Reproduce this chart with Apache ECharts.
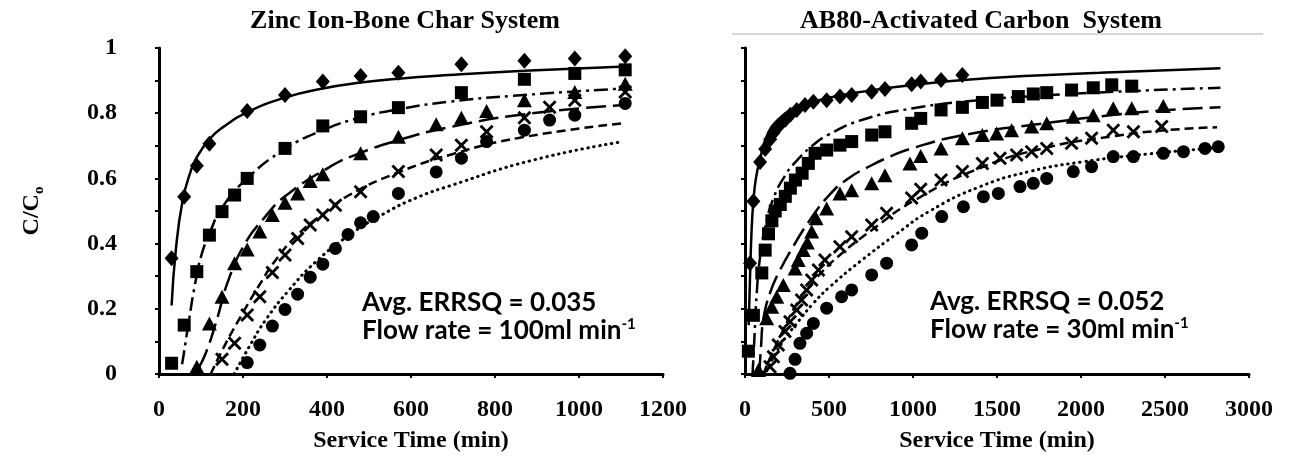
<!DOCTYPE html>
<html>
<head>
<meta charset="utf-8">
<script src="https://cdn.jsdelivr.net/npm/echarts@6/dist/echarts.min.js"></script>
<style>
  html, body { margin: 0; padding: 0; background: #fff; }
  #chart { width: 1290px; height: 459px; }
</style>
</head>
<body>
<div id="chart"></div>
<script>
// Breakthrough data, [service time (min), C/Co]
// Zinc ion on bone char, 100 ml/min
const zincDiamond = [[30,0.355],[60,0.544],[90,0.639],[120,0.706],[210,0.807],[300,0.856],[390,0.897],[480,0.914],[570,0.924],[720,0.95],[870,0.961],[990,0.968],[1110,0.975]];
const zincSquare = [[30,0.033],[60,0.15],[90,0.314],[120,0.426],[150,0.498],[180,0.549],[210,0.60],[300,0.692],[390,0.761],[480,0.789],[570,0.817],[720,0.863],[870,0.904],[990,0.922],[1110,0.933]];
const zincTriangle = [[90,0.022],[120,0.155],[150,0.237],[180,0.34],[210,0.382],[240,0.437],[270,0.488],[300,0.525],[330,0.554],[360,0.592],[390,0.613],[480,0.677],[570,0.728],[660,0.766],[720,0.786],[780,0.807],[870,0.84],[990,0.865],[1110,0.89]];
const zincCross = [[150,0.045],[180,0.094],[210,0.181],[240,0.237],[270,0.311],[300,0.365],[330,0.416],[360,0.457],[390,0.488],[420,0.518],[480,0.559],[570,0.621],[660,0.672],[720,0.702],[780,0.743],[870,0.786],[930,0.818],[990,0.84],[1110,0.865]];
const zincCircle = [[210,0.035],[240,0.089],[270,0.147],[300,0.198],[330,0.245],[360,0.297],[390,0.337],[420,0.385],[450,0.428],[480,0.464],[510,0.483],[570,0.554],[660,0.62],[720,0.662],[780,0.713],[870,0.748],[930,0.779],[990,0.794],[1110,0.83]];

// Model curves, zinc system
const zincSolidFit = [[30,0.21],[40,0.38],[56,0.53],[75,0.62],[90,0.665],[120,0.72],[150,0.755],[210,0.803],[300,0.848],[390,0.876],[480,0.894],[570,0.906],[690,0.917],[870,0.93],[1110,0.943]];
const zincDashDotFit = [[55,0.03],[60,0.07],[72,0.17],[85,0.27],[100,0.36],[120,0.43],[150,0.51],[210,0.60],[300,0.69],[390,0.748],[480,0.787],[570,0.812],[690,0.835],[870,0.856],[1110,0.876]];
const zincLongDashFit = [[95,0.02],[111,0.063],[135,0.155],[167,0.294],[207,0.405],[250,0.478],[300,0.545],[405,0.634],[477,0.677],[572,0.718],[684,0.755],[871,0.797],[1111,0.825]];
const zincShortDashFit = [[123,0.0],[159,0.094],[199,0.186],[239,0.273],[278,0.35],[334,0.432],[398,0.498],[453,0.549],[565,0.616],[700,0.675],[860,0.725],[1111,0.77]];
const zincDottedFit = [[179,0.0],[215,0.084],[254,0.166],[310,0.258],[374,0.345],[453,0.426],[533,0.49],[612,0.54],[692,0.577],[890,0.656],[1105,0.713]];

// AB80 on activated carbon, 30 ml/min
const ab80Diamond = [[30,0.34],[50,0.53],[90,0.65],[120,0.69],[150,0.72],[170,0.74],[200,0.76],[240,0.78],[270,0.795],[308,0.81],[357,0.825],[407,0.835],[486,0.84],[565,0.851],[635,0.856],[754,0.866],[833,0.874],[992,0.889],[1046,0.897],[1167,0.902],[1294,0.917]];
const ab80Square = [[20,0.07],[50,0.18],[100,0.31],[120,0.38],[140,0.43],[160,0.47],[180,0.5],[210,0.52],[240,0.545],[270,0.57],[300,0.595],[340,0.616],[377,0.646],[417,0.677],[486,0.687],[565,0.702],[635,0.713],[754,0.733],[833,0.743],[992,0.769],[1046,0.784],[1167,0.81],[1294,0.818],[1413,0.833],[1500,0.84],[1627,0.851],[1716,0.859],[1796,0.863],[1944,0.871],[2073,0.878],[2183,0.887],[2302,0.883]];
const ab80Triangle = [[80,0.012],[129,0.171],[159,0.206],[189,0.237],[228,0.273],[298,0.324],[317,0.35],[347,0.38],[371,0.403],[397,0.437],[423,0.478],[486,0.508],[565,0.554],[635,0.564],[754,0.585],[833,0.61],[982,0.646],[1046,0.669],[1167,0.692],[1294,0.723],[1413,0.733],[1498,0.738],[1587,0.748],[1706,0.759],[1796,0.769],[1954,0.789],[2073,0.794],[2192,0.815],[2302,0.815],[2490,0.822]];
const ab80Cross = [[149,0.022],[169,0.053],[198,0.089],[238,0.13],[268,0.16],[308,0.196],[337,0.227],[367,0.258],[397,0.288],[437,0.319],[476,0.35],[565,0.39],[635,0.421],[754,0.457],[843,0.493],[992,0.54],[1046,0.567],[1167,0.595],[1294,0.621],[1413,0.646],[1518,0.662],[1617,0.672],[1706,0.682],[1796,0.692],[1944,0.708],[2063,0.723],[2192,0.748],[2312,0.743],[2480,0.759]];
const ab80Circle = [[268,0.002],[298,0.045],[327,0.094],[367,0.125],[407,0.155],[486,0.202],[575,0.237],[635,0.258],[754,0.304],[843,0.34],[992,0.396],[1052,0.432],[1171,0.483],[1300,0.513],[1419,0.544],[1508,0.554],[1637,0.575],[1716,0.585],[1796,0.6],[1954,0.621],[2063,0.636],[2192,0.667],[2312,0.667],[2490,0.677],[2610,0.682],[2738,0.692],[2817,0.697]];

// Model curves, AB80 system
const ab80SolidFit = [[22,0.15],[30,0.3],[40,0.45],[50,0.53],[65,0.6],[90,0.66],[130,0.73],[200,0.782],[300,0.815],[480,0.845],[750,0.87],[990,0.886],[1300,0.902],[1700,0.915],[2110,0.924],[2830,0.938]];
const ab80DashDotFit = [[45,0.0],[55,0.1],[70,0.25],[90,0.36],[120,0.45],[170,0.54],[240,0.61],[300,0.65],[400,0.70],[500,0.735],[700,0.78],[1000,0.815],[1400,0.84],[1800,0.855],[2300,0.868],[2830,0.878]];
const ab80LongDashFit = [[85,0.0],[95,0.08],[110,0.17],[150,0.25],[200,0.31],[280,0.385],[390,0.475],[500,0.548],[615,0.6],[745,0.638],[860,0.666],[980,0.69],[1300,0.733],[1800,0.77],[2200,0.795],[2520,0.81],[2830,0.818]];
const ab80ShortDashFit = [[110,0.0],[150,0.05],[228,0.135],[308,0.215],[427,0.295],[565,0.365],[764,0.445],[1000,0.53],[1400,0.632],[1800,0.695],[2200,0.73],[2510,0.748],[2810,0.757]];
const ab80DottedFit = [[130,0.01],[218,0.094],[308,0.155],[407,0.217],[506,0.268],[685,0.345],[903,0.43],[1100,0.5],[1400,0.575],[1700,0.622],[2000,0.65],[2400,0.675],[2830,0.695]];

// Axis ticks and labels
const zincXTicks = { min: 0, max: 1200, interval: 200 };
const ab80XTicks = { min: 0, max: 3000, interval: 500 };
const yTicks = { min: 0, max: 1, interval: 0.1 };

const titles = ['Zinc Ion-Bone Char System', 'AB80-Activated Carbon  System'];
const notes = [['Avg. ERRSQ = 0.035', 'Flow rate = 100ml min'], ['Avg. ERRSQ = 0.052', 'Flow rate = 30ml min']];

const SERIF = '"Liberation Serif", "Times New Roman", serif';
const SANS = 'Lato, "Open Sans", sans-serif';
const crossPath = 'path://M0,2 L2,0 L7,5 L12,0 L14,2 L9,7 L14,12 L12,14 L7,9 L2,14 L0,12 L5,7 Z';

const markerDefs = [
  { symbol: 'diamond', size: [14, 16] },
  { symbol: 'rect', size: 13 },
  { symbol: 'triangle', size: [15, 14] },
  { symbol: crossPath, size: 14 },
  { symbol: 'circle', size: 13 }
];
const lineTypes = ['solid', [14, 5, 3, 5], [20, 7], [9, 5], [0.5, 5.5]];

function axisX(idx, ticks) {
  return {
    type: 'value', gridIndex: idx, min: ticks.min, max: ticks.max, interval: ticks.interval,
    name: 'Service Time (min)', nameLocation: 'middle', nameGap: 55,
    nameTextStyle: { fontFamily: SERIF, fontWeight: 'bold', fontSize: 24, color: '#000' },
    axisLine: { show: true, onZero: false, lineStyle: { color: '#000', width: 3 } },
    axisTick: { show: true, length: 4, lineStyle: { color: '#000', width: 2 } },
    axisLabel: { margin: 24, fontFamily: SERIF, fontWeight: 'bold', fontSize: 24, color: '#000',
                 formatter: v => String(v) },
    splitLine: { show: false }
  };
}
function axisY(idx, showLabels) {
  return {
    type: 'value', gridIndex: idx, min: yTicks.min, max: yTicks.max, interval: yTicks.interval,
    name: showLabels ? '{c|C/C}{o|o}' : '', nameLocation: 'middle', nameGap: 112,
    nameTextStyle: {
      rich: {
        c: { fontFamily: SERIF, fontWeight: 'bold', fontSize: 24, color: '#000', lineHeight: 30 },
        o: { fontFamily: SERIF, fontWeight: 'bold', fontSize: 15, color: '#000', lineHeight: 16, verticalAlign: 'bottom' }
      }
    },
    axisLine: { show: true, onZero: false, lineStyle: { color: '#000', width: 3 } },
    axisTick: { show: true, length: 4, lineStyle: { color: '#000', width: 2 } },
    axisLabel: {
      show: showLabels, margin: 42, fontFamily: SERIF, fontWeight: 'bold', fontSize: 24, color: '#000',
      formatter: v => (Math.round(v * 10) % 2 === 0 ? String(Math.round(v * 10) / 10) : '')
    },
    splitLine: { show: false }
  };
}

function buildSeries(idx, fits, marks) {
  const out = [];
  fits.forEach((d, i) => {
    out.push({
      type: 'line', xAxisIndex: idx, yAxisIndex: idx, data: d, smooth: 0.5,
      showSymbol: false, silent: true, z: 2,
      lineStyle: { color: '#000', width: i === 4 ? 3 : 2.5, type: lineTypes[i], cap: i === 4 ? 'round' : 'butt' }
    });
  });
  marks.forEach((d, i) => {
    out.push({
      type: 'scatter', xAxisIndex: idx, yAxisIndex: idx, data: d, z: 3,
      symbol: markerDefs[i].symbol, symbolSize: markerDefs[i].size,
      itemStyle: { color: '#000', opacity: 1 }
    });
  });
  return out;
}

function noteText(x, y, lines) {
  return {
    type: 'text', x: x, y: y, z: 10,
    style: {
      text: '{n|' + lines[0] + '}\n{n|' + lines[1] + '}{s|-1}',
      fill: '#000',
      rich: {
        n: { fontFamily: SANS, fontWeight: 'bold', fontSize: 26, lineHeight: 28, fill: '#000' },
        s: { fontFamily: SANS, fontWeight: 'bold', fontSize: 15, lineHeight: 16, verticalAlign: 'top', fill: '#000' }
      }
    }
  };
}

const chart = echarts.init(document.getElementById('chart'), null, { renderer: 'canvas' });
chart.setOption({
  backgroundColor: '#fff',
  animation: false,
  grid: [
    { left: 159, right: 627, top: 48, bottom: 85 },
    { left: 745, right: 41, top: 48, bottom: 85 }
  ],
  xAxis: [axisX(0, zincXTicks), axisX(1, ab80XTicks)],
  yAxis: [axisY(0, true), axisY(1, false)],
  series: [].concat(
    buildSeries(0, [zincSolidFit, zincDashDotFit, zincLongDashFit, zincShortDashFit, zincDottedFit],
                   [zincDiamond, zincSquare, zincTriangle, zincCross, zincCircle]),
    buildSeries(1, [ab80SolidFit, ab80DashDotFit, ab80LongDashFit, ab80ShortDashFit, ab80DottedFit],
                   [ab80Diamond, ab80Square, ab80Triangle, ab80Cross, ab80Circle])
  ),
  graphic: [
    { type: 'text', x: 405, y: 8, style: { text: titles[0], font: 'bold 26px ' + SERIF, fill: '#000', align: 'center' } },
    { type: 'text', x: 981, y: 8, style: { text: titles[1], font: 'bold 26px ' + SERIF, fill: '#000', align: 'center' } },
    { type: 'line', shape: { x1: 732, y1: 34, x2: 1263, y2: 34 }, style: { stroke: '#c8c8c8', lineWidth: 1.5 } },
    noteText(362, 289, notes[0]),
    noteText(930, 288, notes[1])
  ]
});
</script>
</body>
</html>
